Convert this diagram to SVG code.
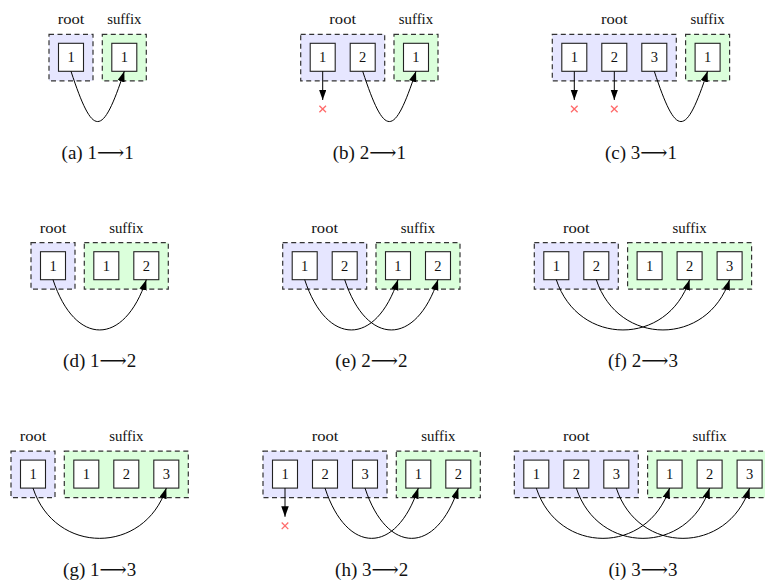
<svg xmlns="http://www.w3.org/2000/svg" width="765" height="583" viewBox="0 0 765 583">
<style>
.rb{fill:#e6e6ff;stroke:#333;stroke-width:1.2;stroke-dasharray:5 3.5}
.sb{fill:#dbffdb;stroke:#333;stroke-width:1.2;stroke-dasharray:5 3.5}
.it{fill:#fff;stroke:#222;stroke-width:1.1}
text{font-family:"Liberation Serif","DejaVu Serif","DejaVu Sans",serif;fill:#111;text-anchor:middle}
.num{font-size:14.5px}
.lbl{font-size:15.5px}
.cap{font-size:19px}
.arc{fill:none;stroke:#000;stroke-width:1;marker-end:url(#ah)}
.x{stroke:#ff6b6b;stroke-width:1.3;fill:none}
</style>
<defs>
<marker id="ah" markerUnits="userSpaceOnUse" markerWidth="11" markerHeight="8" viewBox="0 0 11 8" refX="10.5" refY="3.75" orient="auto">
<path d="M0,0 L10.5,3.75 L0,7.5 Z" fill="#000"/>
</marker>
<path id="xm" d="M-3.3,-3.3 L3.3,3.3 M-3.3,3.3 L3.3,-3.3"/>
</defs>

<!-- (a) -->
<g id="panel-a" transform="translate(49,34.3)">
<g id="a-root"><rect class="rb" x="0" y="0" width="44" height="46.5"/><text class="lbl" x="22" y="-10" textLength="26.7" lengthAdjust="spacingAndGlyphs">root</text></g>
<g id="a-suffix"><rect class="sb" x="53.3" y="0" width="44" height="46.5"/><text class="lbl" x="75.3" y="-10" textLength="34.3" lengthAdjust="spacingAndGlyphs">suffix</text></g>
<g id="a-r1"><rect class="it" x="9.5" y="9" width="25" height="28"/><text class="num" x="22" y="28">1</text></g>
<g id="a-s1"><rect class="it" x="62.8" y="9" width="25" height="28"/><text class="num" x="75.3" y="28">1</text></g>
<text class="cap" x="48.65" y="124.7">(a) 1⟶1</text>
</g>

<!-- (b) -->
<g id="panel-b" transform="translate(300.7,34.3)">
<g id="b-root"><rect class="rb" x="0" y="0" width="84" height="46.5"/><text class="lbl" x="42" y="-10" textLength="26.7" lengthAdjust="spacingAndGlyphs">root</text></g>
<g id="b-suffix"><rect class="sb" x="93.3" y="0" width="44" height="46.5"/><text class="lbl" x="115.3" y="-10" textLength="34.3" lengthAdjust="spacingAndGlyphs">suffix</text></g>
<g id="b-r1"><rect class="it" x="9.5" y="9" width="25" height="28"/><text class="num" x="22" y="28">1</text></g>
<g id="b-r2"><rect class="it" x="49.5" y="9" width="25" height="28"/><text class="num" x="62" y="28">2</text></g>
<g id="b-s1"><rect class="it" x="102.8" y="9" width="25" height="28"/><text class="num" x="115.3" y="28">1</text></g>
<g id="b-drop1"><use href="#xm" class="x" x="22" y="74.7"/></g>
<text class="cap" x="68.65" y="124.7">(b) 2⟶1</text>
</g>

<!-- (c) -->
<g id="panel-c" transform="translate(552.3,34.3)">
<g id="c-root"><rect class="rb" x="0" y="0" width="124" height="46.5"/><text class="lbl" x="62" y="-10" textLength="26.7" lengthAdjust="spacingAndGlyphs">root</text></g>
<g id="c-suffix"><rect class="sb" x="133.3" y="0" width="44" height="46.5"/><text class="lbl" x="155.3" y="-10" textLength="34.3" lengthAdjust="spacingAndGlyphs">suffix</text></g>
<g id="c-r1"><rect class="it" x="9.5" y="9" width="25" height="28"/><text class="num" x="22" y="28">1</text></g>
<g id="c-r2"><rect class="it" x="49.5" y="9" width="25" height="28"/><text class="num" x="62" y="28">2</text></g>
<g id="c-r3"><rect class="it" x="89.5" y="9" width="25" height="28"/><text class="num" x="102" y="28">3</text></g>
<g id="c-s1"><rect class="it" x="142.8" y="9" width="25" height="28"/><text class="num" x="155.3" y="28">1</text></g>
<g id="c-drop1"><use href="#xm" class="x" x="22" y="74.7"/></g>
<g id="c-drop2"><use href="#xm" class="x" x="62" y="74.7"/></g>
<text class="cap" x="88.65" y="124.7">(c) 3⟶1</text>
</g>

<!-- (d) -->
<g id="panel-d" transform="translate(31,242.7)">
<g id="d-root"><rect class="rb" x="0" y="0" width="44" height="46.5"/><text class="lbl" x="22" y="-10" textLength="26.7" lengthAdjust="spacingAndGlyphs">root</text></g>
<g id="d-suffix"><rect class="sb" x="53.3" y="0" width="84" height="46.5"/><text class="lbl" x="95.3" y="-10" textLength="34.3" lengthAdjust="spacingAndGlyphs">suffix</text></g>
<g id="d-r1"><rect class="it" x="9.5" y="9" width="25" height="28"/><text class="num" x="22" y="28">1</text></g>
<g id="d-s1"><rect class="it" x="62.8" y="9" width="25" height="28"/><text class="num" x="75.3" y="28">1</text></g>
<g id="d-s2"><rect class="it" x="102.8" y="9" width="25" height="28"/><text class="num" x="115.3" y="28">2</text></g>
<text class="cap" x="68.65" y="124.7">(d) 1⟶2</text>
</g>

<!-- (e) -->
<g id="panel-e" transform="translate(282.7,242.7)">
<g id="e-root"><rect class="rb" x="0" y="0" width="84" height="46.5"/><text class="lbl" x="42" y="-10" textLength="26.7" lengthAdjust="spacingAndGlyphs">root</text></g>
<g id="e-suffix"><rect class="sb" x="93.3" y="0" width="84" height="46.5"/><text class="lbl" x="135.3" y="-10" textLength="34.3" lengthAdjust="spacingAndGlyphs">suffix</text></g>
<g id="e-r1"><rect class="it" x="9.5" y="9" width="25" height="28"/><text class="num" x="22" y="28">1</text></g>
<g id="e-r2"><rect class="it" x="49.5" y="9" width="25" height="28"/><text class="num" x="62" y="28">2</text></g>
<g id="e-s1"><rect class="it" x="102.8" y="9" width="25" height="28"/><text class="num" x="115.3" y="28">1</text></g>
<g id="e-s2"><rect class="it" x="142.8" y="9" width="25" height="28"/><text class="num" x="155.3" y="28">2</text></g>
<text class="cap" x="88.65" y="124.7">(e) 2⟶2</text>
</g>

<!-- (f) -->
<g id="panel-f" transform="translate(534.3,242.7)">
<g id="f-root"><rect class="rb" x="0" y="0" width="84" height="46.5"/><text class="lbl" x="42" y="-10" textLength="26.7" lengthAdjust="spacingAndGlyphs">root</text></g>
<g id="f-suffix"><rect class="sb" x="93.3" y="0" width="124" height="46.5"/><text class="lbl" x="155.3" y="-10" textLength="34.3" lengthAdjust="spacingAndGlyphs">suffix</text></g>
<g id="f-r1"><rect class="it" x="9.5" y="9" width="25" height="28"/><text class="num" x="22" y="28">1</text></g>
<g id="f-r2"><rect class="it" x="49.5" y="9" width="25" height="28"/><text class="num" x="62" y="28">2</text></g>
<g id="f-s1"><rect class="it" x="102.8" y="9" width="25" height="28"/><text class="num" x="115.3" y="28">1</text></g>
<g id="f-s2"><rect class="it" x="142.8" y="9" width="25" height="28"/><text class="num" x="155.3" y="28">2</text></g>
<g id="f-s3"><rect class="it" x="182.8" y="9" width="25" height="28"/><text class="num" x="195.3" y="28">3</text></g>
<text class="cap" x="108.65" y="124.7">(f) 2⟶3</text>
</g>

<!-- (g) -->
<g id="panel-g" transform="translate(11,451.1)">
<g id="g-root"><rect class="rb" x="0" y="0" width="44" height="46.5"/><text class="lbl" x="22" y="-10" textLength="26.7" lengthAdjust="spacingAndGlyphs">root</text></g>
<g id="g-suffix"><rect class="sb" x="53.3" y="0" width="124" height="46.5"/><text class="lbl" x="115.3" y="-10" textLength="34.3" lengthAdjust="spacingAndGlyphs">suffix</text></g>
<g id="g-r1"><rect class="it" x="9.5" y="9" width="25" height="28"/><text class="num" x="22" y="28">1</text></g>
<g id="g-s1"><rect class="it" x="62.8" y="9" width="25" height="28"/><text class="num" x="75.3" y="28">1</text></g>
<g id="g-s2"><rect class="it" x="102.8" y="9" width="25" height="28"/><text class="num" x="115.3" y="28">2</text></g>
<g id="g-s3"><rect class="it" x="142.8" y="9" width="25" height="28"/><text class="num" x="155.3" y="28">3</text></g>
<text class="cap" x="88.65" y="124.7">(g) 1⟶3</text>
</g>

<!-- (h) -->
<g id="panel-h" transform="translate(263,451.1)">
<g id="h-root"><rect class="rb" x="0" y="0" width="124" height="46.5"/><text class="lbl" x="62" y="-10" textLength="26.7" lengthAdjust="spacingAndGlyphs">root</text></g>
<g id="h-suffix"><rect class="sb" x="133.3" y="0" width="84" height="46.5"/><text class="lbl" x="175.3" y="-10" textLength="34.3" lengthAdjust="spacingAndGlyphs">suffix</text></g>
<g id="h-r1"><rect class="it" x="9.5" y="9" width="25" height="28"/><text class="num" x="22" y="28">1</text></g>
<g id="h-r2"><rect class="it" x="49.5" y="9" width="25" height="28"/><text class="num" x="62" y="28">2</text></g>
<g id="h-r3"><rect class="it" x="89.5" y="9" width="25" height="28"/><text class="num" x="102" y="28">3</text></g>
<g id="h-s1"><rect class="it" x="142.8" y="9" width="25" height="28"/><text class="num" x="155.3" y="28">1</text></g>
<g id="h-s2"><rect class="it" x="182.8" y="9" width="25" height="28"/><text class="num" x="195.3" y="28">2</text></g>
<g id="h-drop1"><use href="#xm" class="x" x="22" y="74.7"/></g>
<text class="cap" x="108.65" y="124.7">(h) 3⟶2</text>
</g>

<!-- (i) -->
<g id="panel-i" transform="translate(514.3,451.1)">
<g id="i-root"><rect class="rb" x="0" y="0" width="124" height="46.5"/><text class="lbl" x="62" y="-10" textLength="26.7" lengthAdjust="spacingAndGlyphs">root</text></g>
<g id="i-suffix"><rect class="sb" x="133.3" y="0" width="124" height="46.5"/><text class="lbl" x="195.3" y="-10" textLength="34.3" lengthAdjust="spacingAndGlyphs">suffix</text></g>
<g id="i-r1"><rect class="it" x="9.5" y="9" width="25" height="28"/><text class="num" x="22" y="28">1</text></g>
<g id="i-r2"><rect class="it" x="49.5" y="9" width="25" height="28"/><text class="num" x="62" y="28">2</text></g>
<g id="i-r3"><rect class="it" x="89.5" y="9" width="25" height="28"/><text class="num" x="102" y="28">3</text></g>
<g id="i-s1"><rect class="it" x="142.8" y="9" width="25" height="28"/><text class="num" x="155.3" y="28">1</text></g>
<g id="i-s2"><rect class="it" x="182.8" y="9" width="25" height="28"/><text class="num" x="195.3" y="28">2</text></g>
<g id="i-s3"><rect class="it" x="222.8" y="9" width="25" height="28"/><text class="num" x="235.3" y="28">3</text></g>
<text class="cap" x="128.65" y="124.7">(i) 3⟶3</text>
</g>

<g id="connectors">
<g transform="translate(49,34.3)"><path class="arc" d="M22,37 C44,104 53.3,104 75.3,37"/></g>
<g transform="translate(300.7,34.3)"><path class="arc" d="M22,37 L22,65.7"/><path class="arc" d="M62,37 C84,104 93.3,104 115.3,37"/></g>
<g transform="translate(552.3,34.3)"><path class="arc" d="M22,37 L22,65.7"/><path class="arc" d="M62,37 L62,65.7"/><path class="arc" d="M102,37 C124,104 133.3,104 155.3,37"/></g>
<g transform="translate(31,242.7)"><path class="arc" d="M22,37 C44,104 93.3,104 115.3,37"/></g>
<g transform="translate(282.7,242.7)"><path class="arc" d="M22,37 C44,104 93.3,104 115.3,37"/><path class="arc" d="M62,37 C84,104 133.3,104 155.3,37"/></g>
<g transform="translate(534.3,242.7)"><path class="arc" d="M22,37 C44,104 133.3,104 155.3,37"/><path class="arc" d="M62,37 C84,104 173.3,104 195.3,37"/></g>
<g transform="translate(11,451.1)"><path class="arc" d="M22,37 C44,104 133.3,104 155.3,37"/></g>
<g transform="translate(263,451.1)"><path class="arc" d="M22,37 L22,65.7"/><path class="arc" d="M62,37 C84,104 133.3,104 155.3,37"/><path class="arc" d="M102,37 C124,104 173.3,104 195.3,37"/></g>
<g transform="translate(514.3,451.1)"><path class="arc" d="M22,37 C44,104 133.3,104 155.3,37"/><path class="arc" d="M62,37 C84,104 173.3,104 195.3,37"/><path class="arc" d="M102,37 C124,104 213.3,104 235.3,37"/></g>
</g>
</svg>
